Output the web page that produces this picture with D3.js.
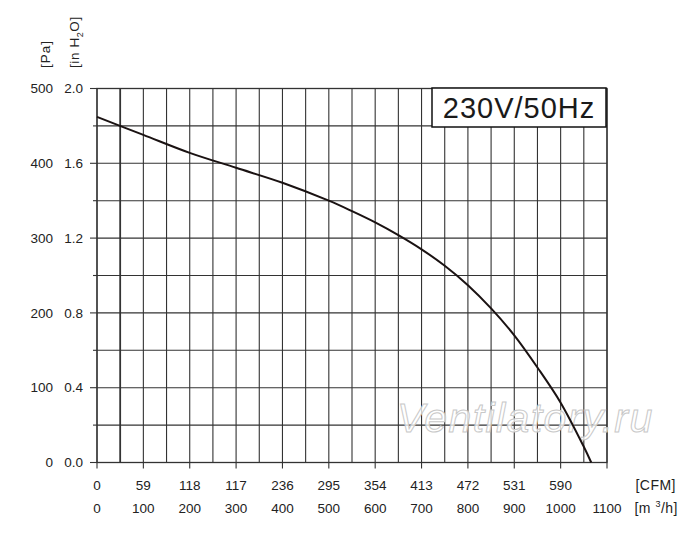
<!DOCTYPE html>
<html>
<head>
<meta charset="utf-8">
<script src="https://cdn.jsdelivr.net/npm/d3@7"></script>
<style>
  html, body { margin: 0; padding: 0; background: #fff; }
  svg { display: block; font-family: "Liberation Sans", Arial, sans-serif; }
</style>
</head>
<body>
<svg id="chart" width="700" height="540"></svg>
<script>
// ---- data ----
const flowM3h    = [0, 100, 200, 300, 400, 500, 550, 600, 650, 700, 750, 800, 850, 900, 950, 1000, 1050, 1066];
const pressurePa = [462, 438, 414, 394, 374, 350, 336, 321, 304, 285, 263, 237, 206, 170, 127, 80, 21, 0];
const m3hTicks  = [0, 100, 200, 300, 400, 500, 600, 700, 800, 900, 1000, 1100];
const cfmLabels = ["0", "59", "118", "117", "236", "295", "354", "413", "472", "531", "590", ""];
const paTicks   = [0, 100, 200, 300, 400, 500];
const inH2OLabels = ["0.0", "0.4", "0.8", "1.2", "1.6", "2.0"];
const title = "230V/50Hz";
const watermark = "Ventilatory.ru";

// ---- layout ----
const svg = d3.select("#chart");
const x = d3.scaleLinear().domain([0, 1100]).range([97, 607]);
const y = d3.scaleLinear().domain([0, 500]).range([462.5, 88.5]);
const gridColor = "#333";
const textColor = "#222";

// grid
const vLines = d3.range(0, 1101, 50);
const hLines = d3.range(0, 501, 50);
svg.append("g").selectAll("line").data(vLines).join("line")
  .attr("x1", d => x(d)).attr("x2", d => x(d))
  .attr("y1", y(500)).attr("y2", y(0))
  .attr("stroke", gridColor)
  .attr("stroke-width", d => d === 50 ? 1.8 : 1.1);
svg.append("g").selectAll("line").data(hLines).join("line")
  .attr("x1", x(0)).attr("x2", x(1100))
  .attr("y1", d => y(d)).attr("y2", d => y(d))
  .attr("stroke", gridColor).attr("stroke-width", 1.1);

// left ticks
svg.append("g").selectAll("line").data(hLines).join("line")
  .attr("x1", d => d % 100 === 0 ? x(0) - 7 : x(0) - 4).attr("x2", x(0))
  .attr("y1", d => y(d)).attr("y2", d => y(d))
  .attr("stroke", gridColor).attr("stroke-width", 1.1);
// bottom ticks
svg.append("g").selectAll("line").data(m3hTicks).join("line")
  .attr("x1", d => x(d)).attr("x2", d => x(d))
  .attr("y1", y(0)).attr("y2", y(0) + 6)
  .attr("stroke", gridColor).attr("stroke-width", 1.1);

// frame
svg.append("rect")
  .attr("x", x(0)).attr("y", y(500))
  .attr("width", x(1100) - x(0)).attr("height", y(0) - y(500))
  .attr("fill", "none").attr("stroke", gridColor).attr("stroke-width", 1.3);

// y labels
svg.append("g").selectAll("text").data(paTicks).join("text")
  .attr("x", 53).attr("y", d => y(d)).attr("dy", "0.35em")
  .attr("text-anchor", "end").attr("font-size", 13.5).attr("fill", textColor)
  .text(d => d);
svg.append("g").selectAll("text").data(paTicks).join("text")
  .attr("x", 83).attr("y", d => y(d)).attr("dy", "0.35em")
  .attr("text-anchor", "end").attr("font-size", 13.5).attr("fill", textColor)
  .text((d, i) => inH2OLabels[i]);

// x labels
svg.append("g").selectAll("text").data(m3hTicks).join("text")
  .attr("x", d => x(d)).attr("y", 490)
  .attr("text-anchor", "middle").attr("font-size", 13.5).attr("fill", textColor)
  .text((d, i) => cfmLabels[i]);
svg.append("g").selectAll("text").data(m3hTicks).join("text")
  .attr("x", d => x(d)).attr("y", 513)
  .attr("text-anchor", "middle").attr("font-size", 13.5).attr("fill", textColor)
  .text(d => d);

// unit labels
svg.append("text").attr("x", 676).attr("y", 490).attr("text-anchor", "end")
  .attr("font-size", 14).attr("fill", textColor).attr("letter-spacing", 0.5).text("[CFM]");
const mu = svg.append("text").attr("x", 678).attr("y", 513).attr("text-anchor", "end")
  .attr("font-size", 14).attr("fill", textColor).attr("letter-spacing", 0.5);
mu.append("tspan").text("[m ");
mu.append("tspan").attr("dy", -6).attr("font-size", 9).text("3");
mu.append("tspan").attr("dy", 6).text("/h]");

svg.append("text").attr("transform", "translate(50,68) rotate(-90)")
  .attr("font-size", 13.5).attr("fill", textColor).attr("letter-spacing", 1)
  .text("[Pa]");
const ih = svg.append("text").attr("transform", "translate(79,68) rotate(-90)")
  .attr("font-size", 13.5).attr("fill", textColor).attr("letter-spacing", 0.6);
ih.append("tspan").text("[in H");
ih.append("tspan").attr("dy", 4).attr("font-size", 9).text("2");
ih.append("tspan").attr("dy", -4).text("O]");

// watermark
svg.append("text").attr("x", 397).attr("y", 432)
  .attr("font-size", 41).attr("font-style", "italic")
  .attr("letter-spacing", 1.4)
  .attr("fill", "#fff").attr("fill-opacity", 0.75)
  .attr("stroke", "#c8c8c8").attr("stroke-width", 1)
  .text(watermark);

// curve
const pts = flowM3h.map((f, i) => [f, pressurePa[i]]);
svg.append("path").datum(pts)
  .attr("fill", "none").attr("stroke", "#1a1212").attr("stroke-width", 2)
  .attr("d", d3.line().x(d => x(d[0])).y(d => y(d[1])).curve(d3.curveCatmullRom.alpha(0.5)));

// title box
svg.append("rect").attr("x", 432).attr("y", 88).attr("width", 174).attr("height", 39)
  .attr("fill", "#fff").attr("stroke", "#111").attr("stroke-width", 1.5);
svg.append("text").attr("x", 519).attr("y", 118).attr("text-anchor", "middle")
  .attr("font-size", 29).attr("letter-spacing", 1).attr("fill", "#1a1a1a")
  .text(title);
</script>
</body>
</html>
